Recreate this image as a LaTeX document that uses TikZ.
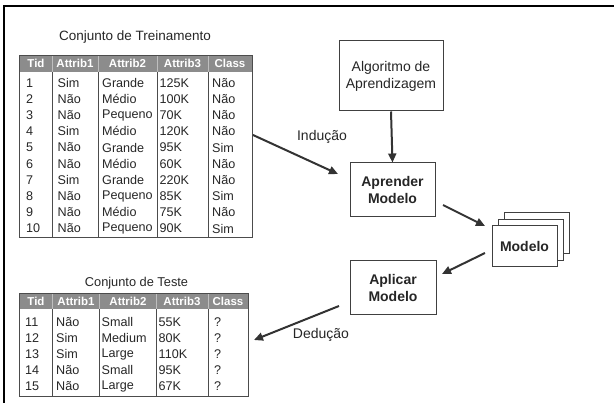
\documentclass[tikz,border=0pt]{standalone}
\usepackage{fontspec}
\setmainfont{Liberation Sans}
\usetikzlibrary{arrows.meta}

\tikzset{
  frameline/.style={line width=2pt, black},
  gridline/.style={line width=0.8pt, black!70},
  headsep/.style={line width=0.8pt, white!75!black},
  headfill/.style={fill=black!45},
  thead/.style={font=\bfseries\fontsize{11.5}{13}\selectfont, text=white, inner sep=0pt},
  tcell/.style={font=\fontsize{12.6}{14}\selectfont, text=black!85, anchor=west, inner sep=0pt},
  ttitle/.style={font=\fontsize{13.5}{16}\selectfont, text=black!85, inner sep=0pt},
  procbox/.style={draw=black!75, line width=1pt, fill=white, align=center, inner sep=2pt,
                  font=\fontsize{14}{17}\selectfont, text=black!85},
  boldbox/.style={procbox, font=\bfseries\fontsize{14}{17}\selectfont},
  flow/.style={line width=2pt, black!80, -{Triangle[length=9pt,width=8pt]}},
  flowlabel/.style={font=\fontsize{14}{17}\selectfont, text=black!85, inner sep=0pt}
}

\begin{document}
\begin{tikzpicture}[x=1pt,y=-1pt]
\useasboundingbox (0,0) rectangle (614,403);

% outer frame (top and left edges)
\draw[frameline] (3,6.5) -- (614,6.5);
\draw[frameline] (4,5.5) -- (4,403);

% ---------- training set ----------
\node[ttitle] (traintitle) at (135,37) {Conjunto de Treinamento};
\fill[headfill] (19.5,55) rectangle (252,72);
\foreach \x in {52.5,98,157,208}
  \draw[headsep] (\x,55) -- (\x,72);
\foreach \x in {52.5,98,157,208}
  \draw[gridline] (\x,72) -- (\x,237);
\draw[gridline] (19.5,55) rectangle (252,237);
\node[thead] (trh1) at (36,63.5) {Tid};
\node[thead] (trh2) at (75,63.5) {Attrib1};
\node[thead] (trh3) at (127.5,63.5) {Attrib2};
\node[thead] (trh4) at (182.5,63.5) {Attrib3};
\node[thead] (trh5) at (230,63.5) {Class};
\foreach \t/\a/\b/\c/\d [count=\r] in {
  1/Sim/Grande/125K/Não, 2/Não/Médio/100K/Não, 3/Não/Pequeno/70K/Não,
  4/Sim/Médio/120K/Não, 5/Não/Grande/95K/Sim, 6/Não/Médio/60K/Não,
  7/Sim/Grande/220K/Não, 8/Não/Pequeno/85K/Sim, 9/Não/Médio/75K/Não,
  10/Não/Pequeno/90K/Sim}{
  \pgfmathsetmacro\yy{82.7+(\r-1)*16.2}
  \node[tcell] (tr\r a) at (26,\yy) {\t};
  \node[tcell] (tr\r b) at (57.5,\yy) {\a};
  \node[tcell] (tr\r c) at (102,\yy) {\b};
  \node[tcell] (tr\r d) at (159.5,\yy) {\c};
  \node[tcell] (tr\r e) at (212,\yy) {\d};
}

% ---------- test set ----------
\node[ttitle, font=\fontsize{12.8}{15}\selectfont] (testtitle) at (136.5,283) {Conjunto de Teste};
\fill[headfill] (19.5,293) rectangle (248,309);
\foreach \x in {52.5,99,156,208}
  \draw[headsep] (\x,293) -- (\x,309);
\foreach \x in {52.5,99,156,208}
  \draw[gridline] (\x,309) -- (\x,396);
\draw[gridline] (19.5,293) rectangle (248,396);
\node[thead] (teh1) at (36,301) {Tid};
\node[thead] (teh2) at (76,301) {Attrib1};
\node[thead] (teh3) at (128,301) {Attrib2};
\node[thead] (teh4) at (182,301) {Attrib3};
\node[thead] (teh5) at (228,301) {Class};
\foreach \t/\a/\b/\c/\d [count=\r] in {
  11/Não/Small/55K/?, 12/Sim/Medium/80K/?, 13/Sim/Large/110K/?,
  14/Não/Small/95K/?, 15/Não/Large/67K/?}{
  \pgfmathsetmacro\yy{322+(\r-1)*16.1}
  \node[tcell] (te\r a) at (25,\yy) {\t};
  \node[tcell] (te\r b) at (56,\yy) {\a};
  \node[tcell] (te\r c) at (101.5,\yy) {\b};
  \node[tcell] (te\r d) at (158.5,\yy) {\c};
  \node[tcell] (te\r e) at (214,\yy) {\d};
}

% ---------- process boxes ----------
\node[procbox, minimum width=104pt, minimum height=70pt] (algo) at (391,76)
  {Algoritmo de\\Aprendizagem};
\node[boldbox, minimum width=85pt, minimum height=54pt] (learn) at (392.5,190)
  {Aprender\\Modelo};
\node[boldbox, minimum width=86pt, minimum height=54pt] (apply) at (393,288)
  {Aplicar\\Modelo};

% stacked model sheets
\node[procbox, minimum width=65pt, minimum height=41pt] (model3) at (536.5,233.5) {};
\node[procbox, minimum width=65pt, minimum height=41pt] (model2) at (530.5,240) {};
\node[boldbox, minimum width=65pt, minimum height=41pt] (model) at (524.5,246.5) {Modelo};

% ---------- connectors ----------
\coordinate (indfrom) at (253,135);
\coordinate (indto) at (338,174);
\coordinate (lmfrom) at (443,205);
\coordinate (lmto) at (485,226);
\coordinate (mafrom) at (485,253);
\coordinate (mato) at (442,274);
\coordinate (dedfrom) at (339,306);
\coordinate (dedto) at (254,340);

\draw[flow] (algo.south) -- (learn.north);
\draw[flow] (indfrom) -- (indto);
\draw[flow] (lmfrom) -- (lmto);
\draw[flow] (mafrom) -- (mato);
\draw[flow] (dedfrom) -- (dedto);

\node[flowlabel] (indlabel) at (322,137) {Indução};
\node[flowlabel] (dedlabel) at (321,335) {Dedução};
\end{tikzpicture}
\end{document}
